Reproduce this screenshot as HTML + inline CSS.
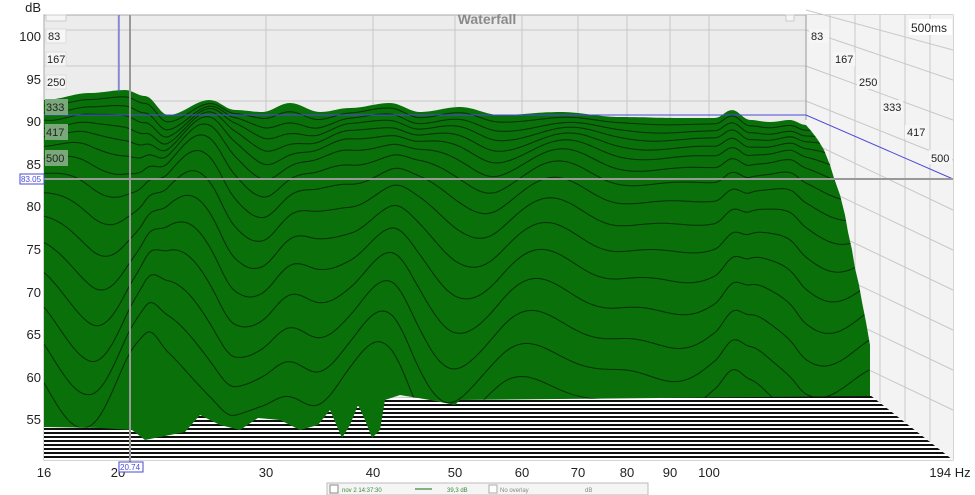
<!DOCTYPE html>
<html><head><meta charset="utf-8"><style>
html,body{margin:0;padding:0;background:#fff;width:975px;height:495px;overflow:hidden;font-family:"Liberation Sans",sans-serif}
svg{display:block}
</style></head><body>
<svg id="s" width="975" height="495" xmlns="http://www.w3.org/2000/svg" font-family="Liberation Sans, sans-serif">
<defs>
<pattern id="st" width="10" height="4" patternUnits="userSpaceOnUse"><rect width="10" height="4" fill="#fff"/><rect width="10" height="2" fill="#111"/></pattern>
<clipPath id="gc"><path id="gpc" d=""/></clipPath>
</defs>
<rect x="44" y="15" width="909" height="445" fill="#ececec" stroke="#aaa"/>
<rect x="806" y="15" width="147" height="445" fill="#f3f3f3"/>
<g stroke="#c8c8c8" stroke-width="1">
<line x1="44" y1="30" x2="806" y2="30"/><line x1="44" y1="66" x2="806" y2="66"/><line x1="44" y1="101" x2="806" y2="101"/>
<line x1="118" y1="15" x2="118" y2="120"/><line x1="266" y1="15" x2="266" y2="120"/><line x1="373" y1="15" x2="373" y2="120"/><line x1="455" y1="15" x2="455" y2="120"/><line x1="522" y1="15" x2="522" y2="120"/><line x1="578" y1="15" x2="578" y2="120"/><line x1="627" y1="15" x2="627" y2="120"/><line x1="670" y1="15" x2="670" y2="120"/><line x1="709" y1="15" x2="709" y2="120"/>
<line x1="830" y1="15" x2="830" y2="460"/><line x1="855" y1="15" x2="855" y2="460"/><line x1="880" y1="15" x2="880" y2="460"/><line x1="905" y1="15" x2="905" y2="460"/><line x1="930" y1="15" x2="930" y2="460"/>
<line x1="806" y1="30" x2="953" y2="80"/><line x1="806" y1="66" x2="953" y2="120"/><line x1="806" y1="101" x2="953" y2="160"/><line x1="806" y1="10" x2="953" y2="50"/>
<line x1="806" y1="140" x2="953" y2="210"/><line x1="806" y1="180" x2="953" y2="250"/><line x1="806" y1="220" x2="953" y2="290"/><line x1="806" y1="260" x2="953" y2="330"/><line x1="806" y1="300" x2="953" y2="370"/><line x1="806" y1="340" x2="953" y2="410"/>
</g>
<line x1="806" y1="15" x2="806" y2="120" stroke="#999"/>
<polygon points="44,400 870,395 953,460 44,460" fill="url(#st)"/>
<path id="gp" fill="#0a700a" d=""/>
<g id="lines" clip-path="url(#gc)" fill="none" stroke="#063006" stroke-width="1"></g>
<polyline points="44,115 806,115 953,179" fill="none" stroke="#4a4ad8" stroke-width="1"/>
<line x1="119" y1="15" x2="119" y2="92" stroke="#4a4ad8"/>
<line x1="130" y1="15" x2="130" y2="462" stroke="#999" stroke-width="2"/>
<line x1="44" y1="179" x2="953" y2="179" stroke="#999" stroke-width="2"/>
<g font-size="11" fill="#222">
<rect x="46" y="15" width="20" height="6" fill="#f6f6f6" stroke="#ccc"/>
<rect x="46" y="29" width="20" height="14" fill="#f6f6f6" stroke="#ddd"/><text x="48" y="40">83</text>
<rect x="46" y="52" width="20" height="14" fill="#f6f6f6" stroke="#ddd"/><text x="47" y="63">167</text>
<rect x="46" y="75" width="20" height="14" fill="#f6f6f6" stroke="#ddd"/><text x="47" y="86">250</text>
<rect x="45" y="99" width="23" height="16" fill="#7aa87a"/><text x="46" y="111">333</text>
<rect x="45" y="124" width="23" height="16" fill="#7aa87a"/><text x="46" y="136">417</text>
<rect x="45" y="150" width="23" height="16" fill="#7aa87a"/><text x="46" y="162">500</text>
<rect x="786" y="15" width="8" height="6" fill="#f6f6f6" stroke="#ccc"/>
<rect x="809" y="29" width="20" height="14" fill="#f6f6f6"/><text x="811" y="40">83</text>
<rect x="833" y="52" width="22" height="14" fill="#f6f6f6"/><text x="835" y="63">167</text>
<rect x="857" y="75" width="22" height="14" fill="#f6f6f6"/><text x="859" y="86">250</text>
<rect x="881" y="100" width="22" height="14" fill="#f6f6f6"/><text x="883" y="111">333</text>
<rect x="905" y="125" width="22" height="14" fill="#f6f6f6"/><text x="907" y="136">417</text>
<rect x="929" y="150" width="23" height="14" fill="#f6f6f6"/><text x="931" y="162">500</text>
<rect x="909" y="19" width="43" height="16" fill="#fff"/><text x="911" y="32" font-size="12">500ms</text>
</g>
<text x="487" y="24" font-size="14" font-weight="bold" fill="#8a8a8a" text-anchor="middle">Waterfall</text>
<g font-size="13" fill="#222" text-anchor="end">
<text x="41" y="12">dB</text>
<text x="41" y="41">100</text><text x="41" y="84">95</text><text x="41" y="126">90</text><text x="41" y="169">85</text><text x="41" y="211">80</text><text x="41" y="254">75</text><text x="41" y="297">70</text><text x="41" y="339">65</text><text x="41" y="382">60</text><text x="41" y="424">55</text>
</g>
<g font-size="13" fill="#222" text-anchor="middle">
<text x="44" y="477">16</text><text x="118" y="477">20</text><text x="266" y="477">30</text><text x="373" y="477">40</text><text x="455" y="477">50</text><text x="522" y="477">60</text><text x="578" y="477">70</text><text x="627" y="477">80</text><text x="670" y="477">90</text><text x="709" y="477">100</text><text x="950" y="477">194 Hz</text>
</g>
<rect x="20" y="174" width="24" height="10" fill="#fff" stroke="#4a4ad8"/><text x="21" y="182" font-size="8" fill="#4a4ad8">83.05</text>
<rect x="119" y="462" width="24" height="10" fill="#fff" stroke="#4a4ad8"/><text x="120" y="470" font-size="8" fill="#4a4ad8">20.74</text>
<rect x="327" y="483" width="321" height="12" fill="#f5f5f5" stroke="#bbb"/>
<rect x="330" y="485" width="8" height="8" fill="#fff" stroke="#888"/>
<text x="342" y="492" font-size="6" fill="#3a8a3a">nov 2 14:37:30</text>
<line x1="415" y1="489" x2="432" y2="489" stroke="#0a6e0a"/>
<text x="447" y="492" font-size="6" fill="#3a8a3a">39,3 dB</text>
<rect x="489" y="485" width="8" height="8" fill="#fff" stroke="#aaa"/>
<text x="500" y="492" font-size="6" fill="#888">No overlay</text><text x="585" y="492" font-size="6" fill="#888">dB</text>
</svg>
<script>
(function(){
function top(x){
 var pts=[[44,100],[90,93],[125,90],[145,96],[168,115],[210,100],[235,110],[262,112],[290,103],[320,112],[350,108],[390,103],[420,112],[460,107],[500,115],[560,112],[620,117],[680,118],[715,118],[732,110],[750,120],[770,122],[790,120],[806,125]];
 for(var i=0;i<pts.length-1;i++){if(x<=pts[i+1][0]){var a=pts[i],b=pts[i+1],t=(x-a[0])/(b[0]-a[0]);t=(1-Math.cos(Math.PI*t))/2;return a[1]+(b[1]-a[1])*t;}}
 return 125;
}
var d="M44,"+top(44);
for(var x=44;x<=806;x+=3)d+=" L"+x+","+top(x).toFixed(1);
var right=[[812,132],[818,140],[824,150],[830,165],[834,178],[840,195],[845,215],[848,232],[852,250],[855,268],[859,285],[862,302],[866,322],[870,345],[870,395]];
right.forEach(function(p){d+=" L"+p[0]+","+p[1];});
var bot=[[870,396],[460,400],[455,405],[430,400],[400,395],[385,400],[380,430],[372,438],[365,420],[358,405],[350,425],[342,438],[330,410],[318,425],[300,430],[280,420],[258,418],[240,430],[220,425],[200,415],[185,432],[160,437],[145,440],[132,430],[100,428],[44,427]];
bot.forEach(function(p){d+=" L"+p[0]+","+p[1];});
d+=" Z";
document.getElementById("gp").setAttribute("d",d);
document.getElementById("gpc").setAttribute("d",d);
var g=document.getElementById("lines"),h="";
var offs=[6,13,20,28,37,48,62,80,102,128,156,186,218,250,282];
for(var i=0;i<offs.length;i++){
 var base=offs[i],p="";
 for(var x=44;x<=870;x+=3){
  var f=0.45+0.55/(1+Math.exp((x-470)/25));
  var amp=Math.min(3+i*4.5,55)*f;
  var y=top(Math.min(x,806))+base
   +amp*(0.6*Math.sin((x-70)/30+i*0.1)+0.4*Math.sin((x-20)/19+i*0.3));
  p+=(x==44?"M":" L")+x+","+y.toFixed(1);
 }
 h+='<path d="'+p+'"/>';
}
g.innerHTML=h;
})();
</script>
</body></html>
